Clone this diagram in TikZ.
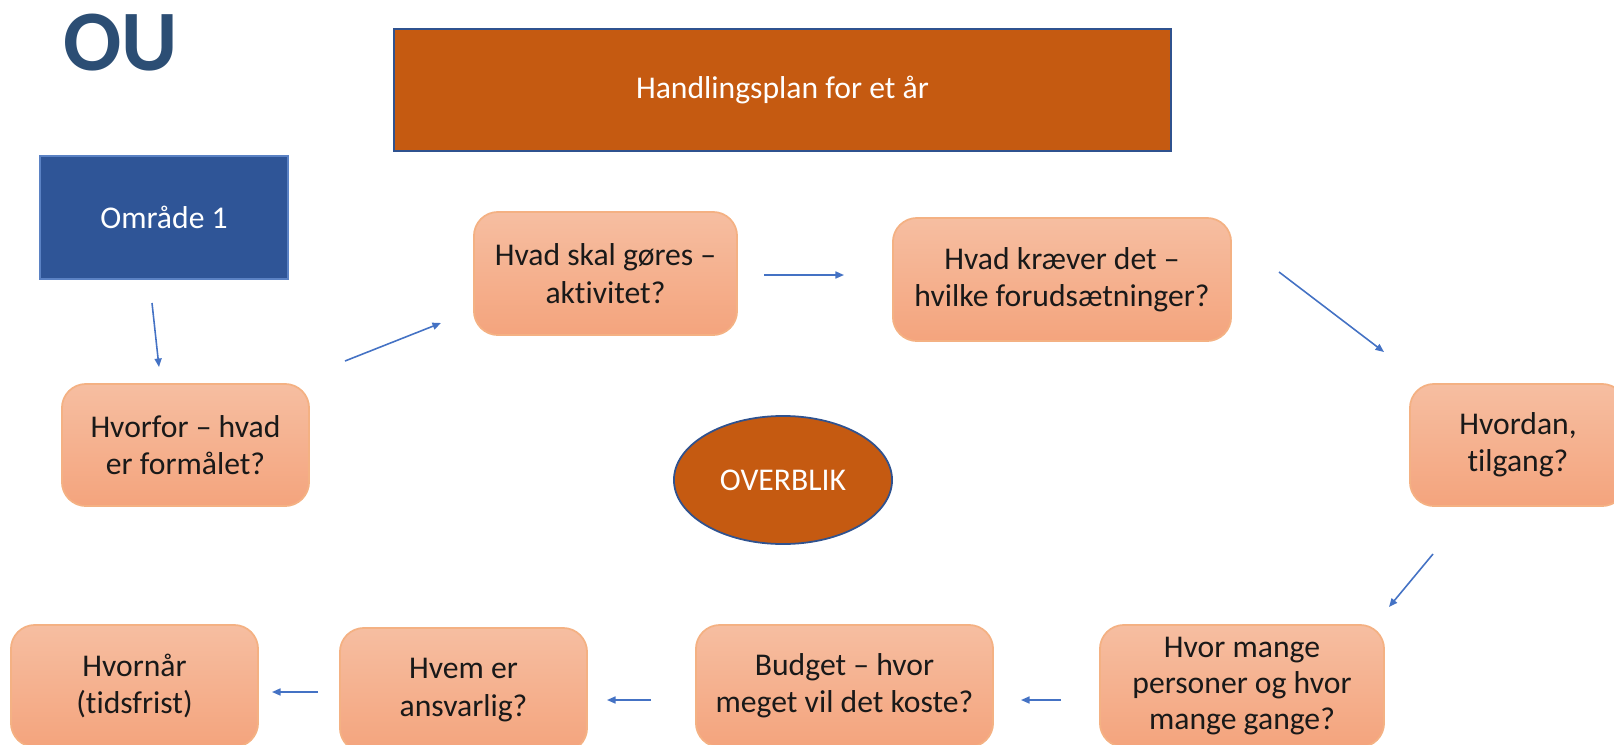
\documentclass[tikz,border=0pt]{standalone}
\usepackage{fontspec}
\setmainfont{Carlito}[RawFeature={-liga;-dlig;-clig}]
\usetikzlibrary{arrows.meta,shapes.geometric}
\definecolor{oublue}{RGB}{44,78,116}
\definecolor{rust}{HTML}{C55A11}
\definecolor{rustedge}{HTML}{2F528F}
\definecolor{areablue}{HTML}{2F5597}
\definecolor{areaedge}{HTML}{5B82C4}
\definecolor{boxtop}{HTML}{F6BEA1}
\definecolor{boxbot}{HTML}{F4A47D}
\definecolor{boxedge}{HTML}{F4B183}
\definecolor{arrowblue}{HTML}{4472C4}
\begin{document}
\begin{tikzpicture}[x=0.01cm,y=-0.01cm,
  txt/.style={font=\fontsize{9}{10.6}\selectfont},
  qbox/.style={txt, rounded corners=0.24cm, top color=boxtop, bottom color=boxbot,
    draw=boxedge, line width=0.5pt, align=center, text=black!90, inner sep=0pt,
    minimum height=1.22cm},
  darkbox/.style={txt, fill=rust, draw=rustedge, line width=0.5pt, text=white, inner sep=0pt},
  arr/.style={draw=arrowblue, line width=0.45pt, -{Triangle[length=0.085cm,width=0.07cm]}}]
\useasboundingbox (0,0) rectangle (1614,745);
\clip (0,0) rectangle (1614,745);

\node[font=\fontsize{24.5}{27}\selectfont\bfseries, text=oublue, inner sep=0pt] (ou) at (121,43) {OU};
\node[darkbox, minimum width=7.77cm, minimum height=1.22cm] (hp) at (782.5,90) {Handlingsplan for et år};
\node[txt, fill=areablue, draw=areaedge, line width=0.4pt, text=white, inner sep=0pt,
  minimum width=2.48cm, minimum height=1.23cm] (om) at (164,217.5) {Område 1};

\node[qbox, minimum width=2.47cm] (why) at (185.5,445) {Hvorfor – hvad\\er formålet?};
\node[qbox, minimum width=2.63cm, minimum height=1.23cm] (what) at (605.5,273.5) {Hvad skal gøres –\\aktivitet?};
\node[qbox, minimum width=3.38cm, minimum height=1.23cm] (req) at (1062,279.5) {Hvad kræver det –\\hvilke forudsætninger?};
\node[qbox, minimum width=2.16cm] (how) at (1518,445) {Hvordan,\\tilgang?};
\node[qbox, minimum width=2.84cm, font=\fontsize{9}{10.2}\selectfont] (many) at (1242,686) {Hvor mange\\personer og hvor\\mange gange?};
\node[qbox, minimum width=2.97cm] (budget) at (844.5,686) {Budget – hvor\\meget vil det koste?};
\node[qbox, minimum width=2.47cm, minimum height=1.24cm] (who) at (463.5,690) {Hvem er\\ansvarlig?};
\node[qbox, minimum width=2.47cm] (when) at (134.5,686) {Hvornår\\(tidsfrist)};

\node[darkbox, ellipse, minimum width=2.18cm, minimum height=1.28cm] (over) at (783,480) {OVERBLIK};

\coordinate (a1s) at (152,303); \coordinate (a1e) at (159,367);
\coordinate (a2s) at (345,361); \coordinate (a2e) at (441,323);
\coordinate (a3s) at (764,275); \coordinate (a3e) at (844,275);
\coordinate (a4s) at (1279,272); \coordinate (a4e) at (1384,352);
\coordinate (a5s) at (1433,554); \coordinate (a5e) at (1389,607);
\coordinate (a6s) at (1061,700); \coordinate (a6e) at (1021,700);
\coordinate (a7s) at (651,700); \coordinate (a7e) at (607,700);
\coordinate (a8s) at (318,692); \coordinate (a8e) at (272,692);

\draw[arr] (a1s) -- (a1e);
\draw[arr] (a2s) -- (a2e);
\draw[arr] (a3s) -- (a3e);
\draw[arr] (a4s) -- (a4e);
\draw[arr] (a5s) -- (a5e);
\draw[arr] (a6s) -- (a6e);
\draw[arr] (a7s) -- (a7e);
\draw[arr] (a8s) -- (a8e);
\end{tikzpicture}
\end{document}
